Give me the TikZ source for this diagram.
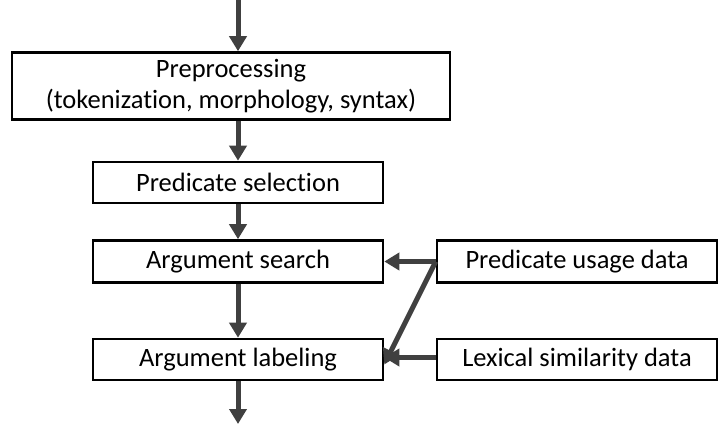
\documentclass[tikz,border=0pt]{standalone}
\usepackage{fontspec}
\setmainfont{Carlito}[Ligatures=NoCommon]
\usetikzlibrary{arrows.meta}
\begin{document}
\begin{tikzpicture}[x=1pt,y=-1pt,
  stage/.style={draw=black,line width=2.6pt,fill=white,inner sep=0pt,font=\fontsize{26.5}{30}\selectfont,align=center},
  flow/.style={draw=black!75,line width=5pt,-{Triangle[width=17pt,length=15pt]}}]
\useasboundingbox (0,0) rectangle (720,424);
\node[stage,minimum width=438pt,minimum height=67pt] (pre) at (231,86) {Preprocessing\\[1pt](tokenization, morphology, syntax)};
\node[stage,minimum width=290pt,minimum height=41pt] (sel) at (238,182.5) {Predicate selection};
\node[stage,minimum width=290pt,minimum height=42pt] (srch) at (238,261.5) {Argument search};
\node[stage,minimum width=290pt,minimum height=41pt] (lab) at (238,359.5) {Argument labeling};
\node[stage,minimum width=280pt,minimum height=42pt] (usage) at (577,261.5) {Predicate usage data};
\node[stage,minimum width=280pt,minimum height=41pt] (lex) at (577,359.5) {Lexical similarity data};
\coordinate (in) at (238,0);
\coordinate (out) at (238,424);
\draw[flow] (in) -- (in |- pre.north);
\draw[flow] (pre.south -| sel.north) -- (sel.north);
\draw[flow] (sel) -- (srch);
\draw[flow] (srch) -- (lab);
\draw[flow] (lab) -- (out);
\draw[flow] (usage.west) -- (srch.east);
\draw[flow] (usage.west) -- ([yshift=-5pt]lab.east);
\draw[flow] ([yshift=2pt]lex.west) -- ([yshift=2pt]lab.east);
\end{tikzpicture}
\end{document}
